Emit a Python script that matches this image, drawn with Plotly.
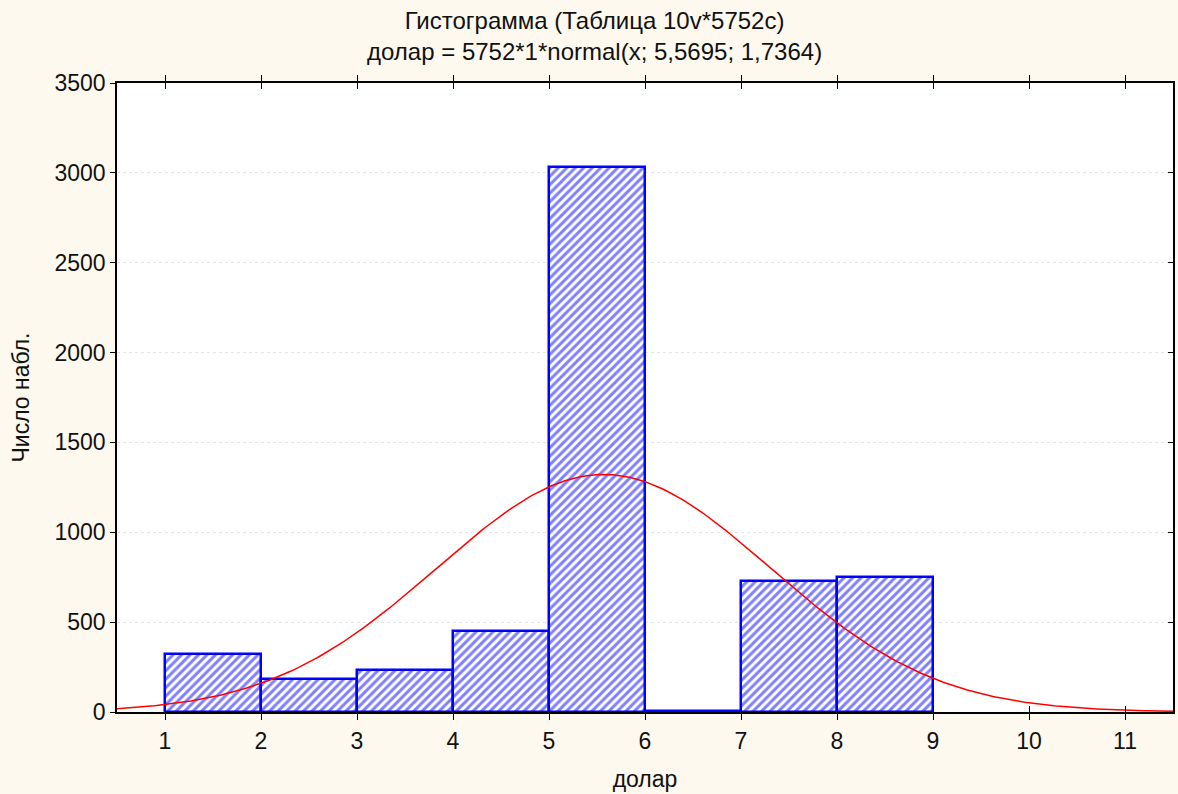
import numpy as np
import plotly.graph_objects as go

# Histogram data (bin edges and counts)
bin_left = [1, 2, 3, 4, 5, 6, 7, 8]
bin_right = [2, 3, 4, 5, 6, 7, 8, 9]
counts = [323, 184, 232, 452, 3032, 5, 730, 752]

# Fitted normal curve parameters (from the subtitle)
N_OBS = 5752
BIN_W = 1
MEAN = 5.5695
SD = 1.7364

x_ticks = [1, 2, 3, 4, 5, 6, 7, 8, 9, 10, 11]
y_ticks = [0, 500, 1000, 1500, 2000, 2500, 3000, 3500]

title_1 = "Гистограмма (Таблица 10v*5752c)"
title_2 = "долар = 5752*1*normal(x; 5,5695; 1,7364)"
x_title = "долар"
y_title = "Число набл."

centers = [(a + b) / 2 for a, b in zip(bin_left, bin_right)]
widths = [b - a for a, b in zip(bin_left, bin_right)]

xc = np.linspace(0.5, 11.5, 400)
yc = N_OBS * BIN_W * np.exp(-0.5 * ((xc - MEAN) / SD) ** 2) / (SD * np.sqrt(2 * np.pi))

FONT = "Liberation Sans, Arial, sans-serif"
FS = 23

fig = go.Figure()
fig.add_trace(go.Bar(
    x=centers, y=counts, width=widths,
    marker=dict(color="white",
                line=dict(color="#0000ff", width=2.5),
                pattern=dict(shape="/", fgcolor="#0000ff", bgcolor="white",
                             size=6, solidity=0.5)),
    showlegend=False, hoverinfo="x+y",
))
fig.add_trace(go.Scatter(
    x=xc, y=yc, mode="lines", line=dict(color="#ff0000", width=1.5),
    showlegend=False, hoverinfo="skip",
))
# invisible trace for the right-hand axis ticks
fig.add_trace(go.Scatter(x=[1], y=[0], yaxis="y2", mode="markers",
                         marker=dict(opacity=0), showlegend=False, hoverinfo="skip"))

fig.update_layout(
    width=1178, height=794,
    margin=dict(l=117, r=3, t=83, b=82),
    paper_bgcolor="#fdf9ee", plot_bgcolor="white",
    font=dict(family=FONT, size=FS, color="#111111"),
    bargap=0,
    xaxis=dict(
        range=[0.5, 11.5], tickvals=x_ticks, ticks="inside", ticklen=6,
        tickcolor="black", mirror="allticks", showline=True, linecolor="black",
        linewidth=1.5, showgrid=False, zeroline=False, ticklabelstandoff=8,
        title=dict(text=x_title, standoff=18, font=dict(size=FS)),
        tickfont=dict(size=FS),
    ),
    yaxis=dict(
        range=[0, 3500], tickvals=y_ticks, ticks="outside", ticklen=5,
        tickcolor="black", mirror=True, showline=True, linecolor="black",
        linewidth=1.5, showgrid=True, gridcolor="#e4e4e4", griddash="dot",
        gridwidth=1, zeroline=False,
        title=dict(text=y_title, standoff=18, font=dict(size=FS)),
        tickfont=dict(size=FS),
    ),
    yaxis2=dict(
        overlaying="y", side="right", range=[0, 3500],
        tickvals=y_ticks, ticks="inside", ticklen=5, tickcolor="black",
        showticklabels=False, showgrid=False, zeroline=False, showline=False,
    ),
)
fig.add_annotation(text=title_1 + "<br>" + title_2, x=0.452, xref="paper",
                   y=1, yref="paper", yanchor="bottom", yshift=16, showarrow=False,
                   font=dict(size=24, family=FONT, color="#111111"))

fig.write_html("out.html", config={"displayModeBar": False})

with open("out.html", "r", encoding="utf-8") as f:
    html = f.read()
html = html.replace("<head>", "<head><style>html,body{margin:0;padding:0;overflow:hidden}</style>", 1)
with open("out.html", "w", encoding="utf-8") as f:
    f.write(html)
